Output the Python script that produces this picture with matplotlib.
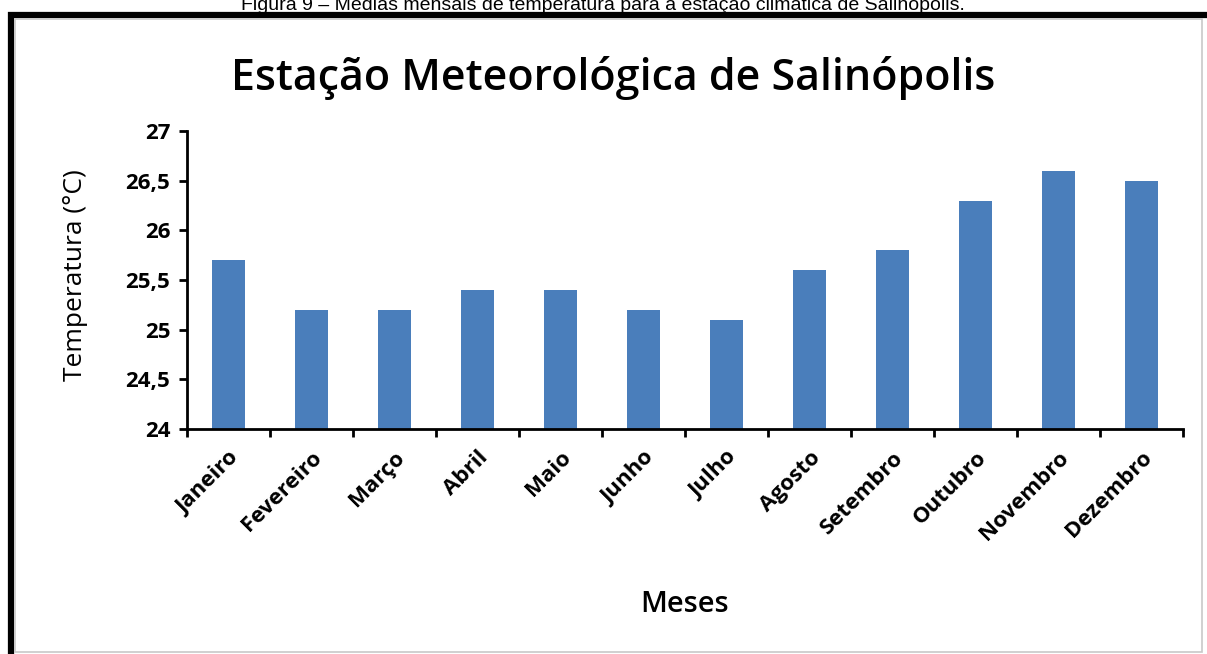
import matplotlib
matplotlib.use("Agg")
import matplotlib.pyplot as plt
from matplotlib.patches import Rectangle

meses = ["Janeiro", "Fevereiro", "Março", "Abril", "Maio", "Junho",
         "Julho", "Agosto", "Setembro", "Outubro", "Novembro", "Dezembro"]
temperatura = [25.7, 25.2, 25.2, 25.4, 25.4, 25.2, 25.1, 25.6, 25.8, 26.3, 26.6, 26.5]
yticks = [24, 24.5, 25, 25.5, 26, 26.5, 27]
ytick_labels = ["24", "24,5", "25", "25,5", "26", "26,5", "27"]

plt.rcParams['font.family'] = ['Open Sans', 'DejaVu Sans']

W, H = 1207, 654
fig = plt.figure(figsize=(W / 100, H / 100), dpi=100)

# caption above the chart (cut at top in the original)
fig.text(603 / W, 1 - 9.5 / H, "Figura 9 – Médias mensais de temperatura para a estação climática de Salinópolis.",
         ha='center', va='baseline', fontsize=14, family='Liberation Sans')

# thick black frame + thin gray inner line
fig.patches.append(Rectangle((11 / W, -0.1), 1.2, 1 - 15 / H + 0.1, transform=fig.transFigure,
                             fill=False, edgecolor='black', linewidth=4.5, zorder=0))
fig.patches.append(Rectangle((15 / W, 2 / H), (1202 - 15) / W, 1 - 21 / H, transform=fig.transFigure,
                             fill=False, edgecolor='#c8c8c8', linewidth=1.2, zorder=0))

ax = fig.add_axes([187 / W, 225 / H, 996 / W, 298 / H])
x = range(len(meses))
ax.bar(x, temperatura, width=0.4, color='#4a7ebb', zorder=2)

ax.set_xlim(-0.5, len(meses) - 0.5)
ax.set_ylim(24, 27)
ax.set_yticks(yticks)
ax.set_yticklabels(ytick_labels, fontsize=16, fontweight='bold')
ax.set_xticks([i - 0.5 for i in range(len(meses) + 1)])
ax.set_xticklabels([])
ax.set_xticks(list(x), minor=True)
ax.set_xticklabels(meses, minor=True, rotation=45, ha='right', va='top', rotation_mode='anchor',
                   fontsize=16, fontweight='bold')
ax.tick_params(axis='x', which='minor', length=0, pad=13)
ax.tick_params(axis='x', which='major', length=6, width=2, direction='out')
ax.tick_params(axis='y', length=6, width=2, direction='out', pad=6)

for side in ['top', 'right']:
    ax.spines[side].set_visible(False)
for side in ['left', 'bottom']:
    ax.spines[side].set_linewidth(2)

ax.set_ylabel("Temperatura (°C)", fontsize=19)
ax.yaxis.set_label_coords(-0.099, 0.517)
ax.set_xlabel("Meses", fontsize=21, fontweight='semibold')
ax.xaxis.set_label_coords(0.5, -0.54)
fig.text(613 / W, 1 - 78 / H, "Estação Meteorológica de Salinópolis", ha='center', va='center',
         fontsize=31, fontweight='semibold')

fig.savefig("out.png", dpi=100)
